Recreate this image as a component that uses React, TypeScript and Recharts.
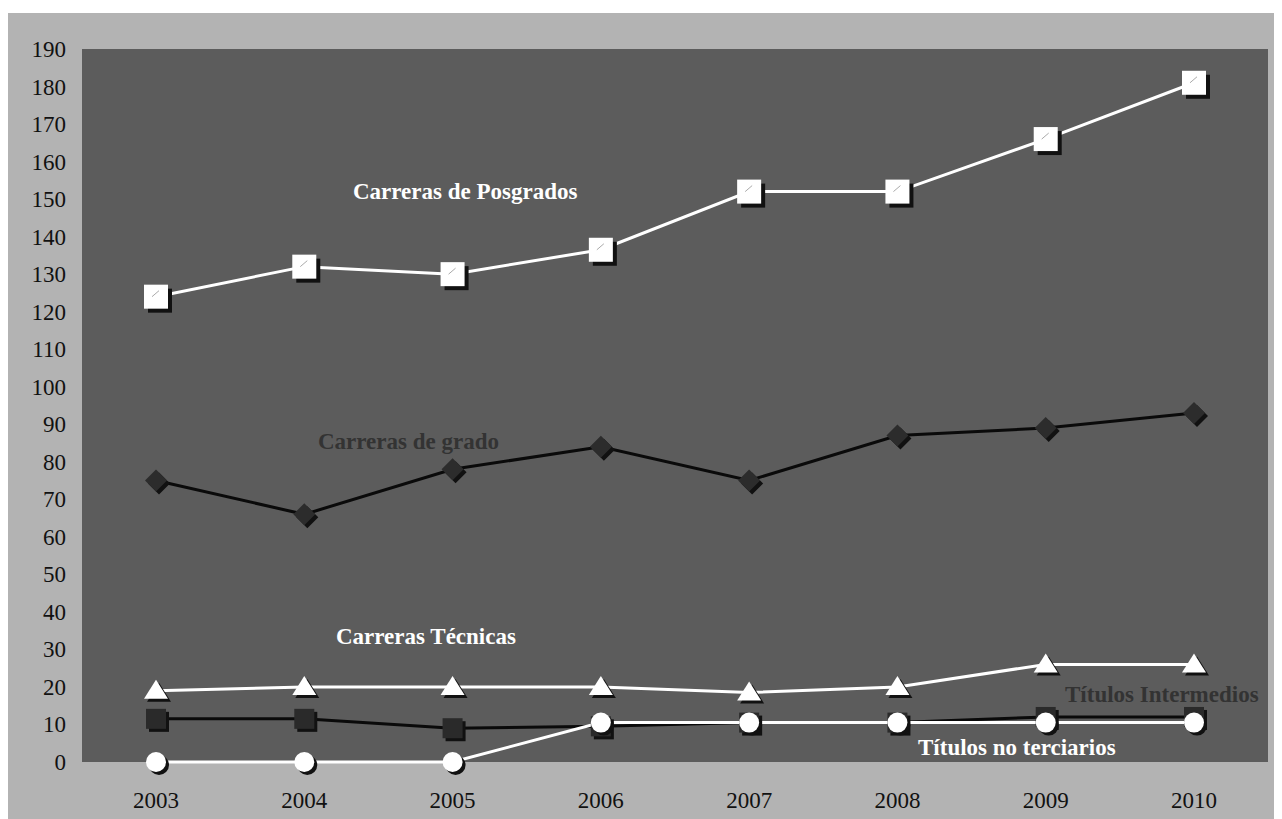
import { LineChart, Line, XAxis, YAxis, CartesianGrid } from 'recharts';

const years = ['2003', '2004', '2005', '2006', '2007', '2008', '2009', '2010'];
const posgrados = [124, 132, 130, 136.5, 152, 152, 166, 181];
const grado = [75, 66, 78, 84, 75, 87, 89, 93];
const tecnicas = [19, 20, 20, 20, 18.5, 20, 26, 26];
const intermedios = [11.5, 11.5, 9, 9.5, 10.5, 10.5, 12, 12];
const noTerciarios = [0, 0, 0, 10.5, 10.5, 10.5, 10.5, 10.5];
const yTicks = [0, 10, 20, 30, 40, 50, 60, 70, 80, 90, 100, 110, 120, 130, 140, 150, 160, 170, 180, 190];

const data = years.map((year, i) => ({
  year,
  posgrados: posgrados[i],
  grado: grado[i],
  tecnicas: tecnicas[i],
  intermedios: intermedios[i],
  noTerciarios: noTerciarios[i],
}));

const SERIF = '"Liberation Serif", "Times New Roman", serif';
const SHADOW = '#111';
const OFF = 4;

const WhiteSquare = (props: any) => {
  const { cx, cy } = props;
  const s = 12;
  return (
    <g>
      <rect x={cx - s + OFF} y={cy - s + OFF} width={s * 2} height={s * 2} fill={SHADOW} />
      <rect x={cx - s} y={cy - s} width={s * 2} height={s * 2} fill="#fff" />
      <line x1={cx - 4} y1={cy} x2={cx + 3} y2={cy - 6} stroke="#aaa" strokeWidth={1} />
    </g>
  );
};

const Diamond = (props: any) => {
  const { cx, cy } = props;
  const r = 11;
  const pts = (dx: number) => `${cx + dx},${cy - r + dx} ${cx + r + dx},${cy + dx} ${cx + dx},${cy + r + dx} ${cx - r + dx},${cy + dx}`;
  return (
    <g>
      <polygon points={pts(3)} fill={SHADOW} />
      <polygon points={pts(0)} fill="#2c2c2c" />
    </g>
  );
};

const Triangle = (props: any) => {
  const { cx, cy } = props;
  const pts = (dx: number) => `${cx + dx},${cy - 11 + dx} ${cx + 12 + dx},${cy + 8 + dx} ${cx - 12 + dx},${cy + 8 + dx}`;
  return (
    <g>
      <polygon points={pts(3)} fill={SHADOW} />
      <polygon points={pts(0)} fill="#fff" />
    </g>
  );
};

const BlackSquare = (props: any) => {
  const { cx, cy } = props;
  const s = 10;
  return (
    <g>
      <rect x={cx - s + 3} y={cy - s + 3} width={s * 2} height={s * 2} fill={SHADOW} />
      <rect x={cx - s} y={cy - s} width={s * 2} height={s * 2} fill="#2a2a2a" />
    </g>
  );
};

const Circle = (props: any) => {
  const { cx, cy } = props;
  return (
    <g>
      <circle cx={cx + 3} cy={cy + 3} r={10} fill={SHADOW} />
      <circle cx={cx} cy={cy} r={10} fill="#fff" />
    </g>
  );
};

const XTick = (props: any) => {
  const { x, y, payload } = props;
  return (
    <text x={x} y={y + 16} textAnchor="middle" fill="#111" fontSize={23} fontFamily={SERIF}>
      {payload.value}
    </text>
  );
};

const YTick = (props: any) => {
  const { x, y, payload } = props;
  return (
    <text x={x} y={y + 8} textAnchor="end" fill="#111" fontSize={23} fontFamily={SERIF}>
      {payload.value}
    </text>
  );
};

const labelStyle = {
  position: 'absolute' as const,
  fontFamily: SERIF,
  fontWeight: 'bold' as const,
  fontSize: 23,
  whiteSpace: 'nowrap' as const,
  lineHeight: '23px',
};

export default function App() {
  return (
    <div style={{ position: 'relative', marginTop: 5, width: 1274, height: 806, background: '#b3b3b3', fontFamily: SERIF }}>
      <LineChart
        width={1274}
        height={806}
        data={data}
        margin={{ top: 36, right: 14, bottom: 0, left: 0 }}
      >
        <CartesianGrid fill="#5c5c5c" horizontal={false} vertical={false} />
        <XAxis
          dataKey="year"
          padding={{ left: 74, right: 74 }}
          axisLine={false}
          tickLine={false}
          tickSize={6}
          tickMargin={24}
          height={57}
          tick={<XTick />}
        />
        <YAxis
          domain={[0, 190]}
          ticks={yTicks}
          interval={0}
          axisLine={false}
          tickLine={false}
          tickSize={6}
          tickMargin={10}
          width={74}
          tick={<YTick />}
        />
        <Line dataKey="posgrados" stroke="#fff" strokeWidth={3} dot={(p: any) => <WhiteSquare key={`ps${p.index}`} {...p} />} isAnimationActive={false} />
        <Line dataKey="grado" stroke="#0a0a0a" strokeWidth={3} dot={(p: any) => <Diamond key={`gr${p.index}`} {...p} />} isAnimationActive={false} />
        <Line dataKey="tecnicas" stroke="#fff" strokeWidth={3} dot={(p: any) => <Triangle key={`tc${p.index}`} {...p} />} isAnimationActive={false} />
        <Line dataKey="intermedios" stroke="#0a0a0a" strokeWidth={3} dot={(p: any) => <BlackSquare key={`in${p.index}`} {...p} />} isAnimationActive={false} />
        <Line dataKey="noTerciarios" stroke="#fff" strokeWidth={3} dot={(p: any) => <Circle key={`nt${p.index}`} {...p} />} isAnimationActive={false} />
      </LineChart>
      <div style={{ ...labelStyle, left: 345, top: 167, color: '#fff' }}>Carreras de Posgrados</div>
      <div style={{ ...labelStyle, left: 310, top: 417, color: '#333' }}>Carreras de grado</div>
      <div style={{ ...labelStyle, left: 328, top: 612, color: '#fff' }}>Carreras Técnicas</div>
      <div style={{ ...labelStyle, left: 1057, top: 670, color: '#333' }}>Títulos Intermedios</div>
      <div style={{ ...labelStyle, left: 910, top: 723, color: '#fff' }}>Títulos no terciarios</div>
    </div>
  );
}
